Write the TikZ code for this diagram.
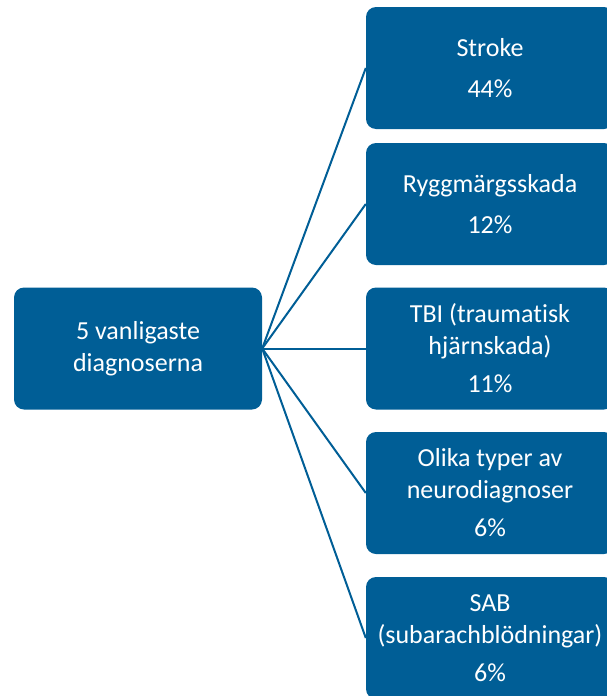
\documentclass[tikz,border=0pt]{standalone}
\usepackage{fontspec}
\setmainfont{Carlito}[Ligatures={NoCommon,NoContextual}]
\usetikzlibrary{positioning}
\definecolor{diagblue}{RGB}{0,94,150}

\begin{document}
\begin{tikzpicture}[x=1pt,y=-1pt,node distance=144pt,on grid,
    box/.style={fill=diagblue,rounded corners=10pt,minimum width=248pt,
      minimum height=122pt,inner sep=0pt,text=white,align=center,
      font=\fontsize{26}{32}\selectfont},
    link/.style={draw=diagblue,line width=2pt}]
    \useasboundingbox (0,0) rectangle (606,696);

    % --- Rot ---
    \node[box] (rot) at (138,348.5) {5 vanligaste\\diagnoserna};

    % --- Diagnoser ---
    \node[box] (tbi)    [right=352pt of rot]      {TBI (traumat\kern0pt isk\\hjärnskada)\\[6pt]11\%};
    \node[box] (rygg)   [above=144.5pt of tbi]    {Ryggmärgsskada\\[9pt]12\%};
    \node[box] (stroke) [above=136pt of rygg]     {Stroke\\[9pt]44\%};
    \node[box] (neuro)  [below=144.5pt of tbi]    {Olika typer av\\neurodiagnoser\\[6pt]6\%};
    \node[box] (sab)    [below=145pt of neuro]    {SAB\\(subarachblödningar)\\[6pt]6\%};

    % --- Linjer ---
    \path[link]
    (rot.east) edge (stroke.west)
    edge (rygg.west)
    edge (tbi.west)
    edge (neuro.west)
    edge (sab.west);
\end{tikzpicture}
\end{document}
